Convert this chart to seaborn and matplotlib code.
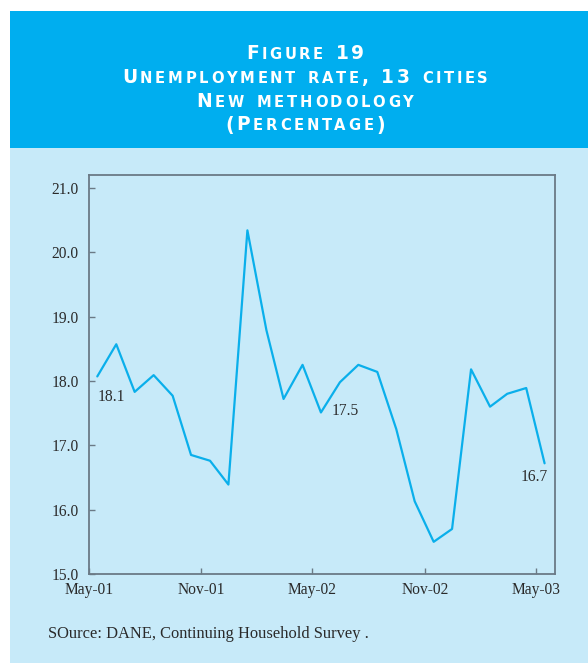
import numpy as np
import pandas as pd
import matplotlib
matplotlib.use("Agg")
import matplotlib.pyplot as plt
import matplotlib.dates as mdates
from matplotlib.patches import Rectangle
import seaborn as sns

# ---------------- data ----------------
months = pd.date_range("2001-05-01", periods=25, freq="MS")
rate = [18.07, 18.57, 17.83, 18.09, 17.77, 16.85, 16.76, 16.39, 20.34, 18.79,
        17.72, 18.25, 17.51, 17.98, 18.25, 18.14, 17.25, 16.13, 15.50, 15.70,
        18.18, 17.60, 17.80, 17.89, 16.72]
labelled_points = [0, 12, 24]
yticks = [15.0, 16.0, 17.0, 18.0, 19.0, 20.0, 21.0]
title_lines = ["Figure 19", "Unemployment rate, 13 cities", "New methodology", "(Percentage)"]
source_text = "SOurce: DANE, Continuing Household Survey ."

# ---------------- style ----------------
HEADER = "#00AEEF"
BODY = "#C7EAF9"
LINE = "#0AAFEB"
FRAME = "#6B7A86"
TXT = "#2A2A2A"

sns.set_style("white")
plt.rcParams["font.family"] = ["Liberation Serif", "DejaVu Serif"]

W, H = 588, 663
fig = plt.figure(figsize=(W / 100, H / 100), dpi=100)
fig.patch.set_facecolor("white")

# background panels
fig.patches.append(Rectangle((10 / W, 0), 1 - 10 / W, 1 - 148 / H, transform=fig.transFigure,
                             facecolor=BODY, edgecolor="none", zorder=-10))
fig.patches.append(Rectangle((10 / W, 1 - 148 / H), 1 - 10 / W, (148 - 11) / H, transform=fig.transFigure,
                             facecolor=HEADER, edgecolor="none", zorder=-10))

# ---------------- axes ----------------
left, right, top, bottom = 88.7, 555, 175, 574
ax = fig.add_axes([left / W, 1 - bottom / H, (right - left) / W, (bottom - top) / H])
ax.set_facecolor("none")

df = pd.DataFrame({"month": months + pd.Timedelta(days=14), "rate": rate})
sns.lineplot(data=df, x="month", y="rate", ax=ax, color=LINE, linewidth=1.6)

ax.set_xlim(pd.Timestamp("2001-05-01"), pd.Timestamp("2003-06-01"))
ax.set_ylim(15.0, 21.2)
ax.set_xticks(months[::6])
ax.xaxis.set_major_formatter(mdates.DateFormatter("%b-%y"))
ax.set_yticks(yticks)
ax.set_yticklabels([f"{v:.1f}" for v in yticks])
ax.set_xlabel("")
ax.set_ylabel("")

for s in ax.spines.values():
    s.set_visible(True)
    s.set_color(FRAME)
    s.set_linewidth(1.3)

ax.tick_params(axis="both", direction="in", length=4, width=1, color=FRAME,
               labelsize=11.2, labelcolor=TXT)
ax.tick_params(axis="y", pad=7, left=True, right=False)
ax.tick_params(axis="x", pad=6, bottom=True, top=False)

offsets = {0: (14, -21), 12: (24, 1), 24: (-10, -14)}
for i in labelled_points:
    ax.annotate(f"{rate[i]:.1f}", (df["month"][i], rate[i]), xytext=offsets[i],
                textcoords="offset pixels", ha="center", va="center",
                fontsize=11.2, color=TXT)

# ---------------- title (small caps, tracked) ----------------
renderer = fig.canvas.get_renderer()
BIG, SMALL = 13.4, 10.6
TITLE_FONT = ["DejaVu Sans"]
TRACK = 2.7      # px between letters
SPACE = 7.0      # px for a word space


def small_caps_line(text, xc_px, baseline_px):
    objs = []
    for ch in text:
        if ch == " ":
            objs.append(None)
            continue
        sm = ch.islower()
        t = fig.text(0, 1 - baseline_px / H, ch.upper(), fontsize=SMALL if sm else BIG,
                     fontweight="bold", color="white", va="baseline", ha="left",
                     family=TITLE_FONT)
        objs.append(t)
    widths = [SPACE if t is None else t.get_window_extent(renderer).width for t in objs]
    total = sum(widths) + TRACK * (len(objs) - 1)
    x = xc_px - total / 2
    for t, w in zip(objs, widths):
        if t is not None:
            t.set_x(x / W)
        x += w + TRACK


for line, base in zip(title_lines, [59.3, 83.2, 106.8, 130.5]):
    small_caps_line(line, 305, base)

fig.text(48.5 / W, 1 - 638 / H, source_text, fontsize=11.9, color=TXT, va="baseline", ha="left")

fig.savefig("out.png", dpi=100, facecolor=fig.get_facecolor())
